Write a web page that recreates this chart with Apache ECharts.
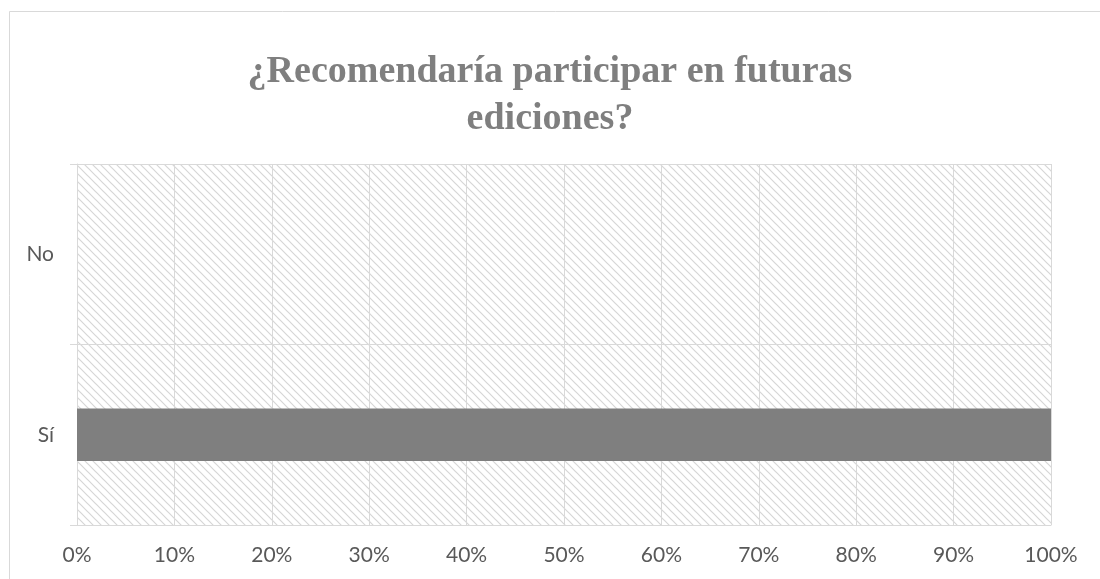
<!DOCTYPE html>
<html><head><meta charset="utf-8">
<script src="https://cdn.jsdelivr.net/npm/echarts@6/dist/echarts.min.js"></script>
<style>html,body{margin:0;padding:0;background:#fff}#c{width:1100px;height:579px}</style>
</head><body><div id="c"></div>
<script>
var titleText = '¿Recomendaría participar en futuras\nediciones?';
var categories = ['Sí', 'No'];
var values = [100, 0];
var xTicks = [0, 10, 20, 30, 40, 50, 60, 70, 80, 90, 100];

function hatch() {
  var s = 8;
  var cv = document.createElement('canvas');
  cv.width = s; cv.height = s;
  var ctx = cv.getContext('2d');
  ctx.fillStyle = '#ffffff';
  ctx.fillRect(0, 0, s, s);
  ctx.strokeStyle = '#d6d6d6';
  ctx.lineWidth = 1.2;
  ctx.beginPath();
  ctx.moveTo(-1, -1); ctx.lineTo(s + 1, s + 1);
  ctx.moveTo(-1, s - 1); ctx.lineTo(1, s + 1);
  ctx.moveTo(s - 1, -1); ctx.lineTo(s + 1, 1);
  ctx.stroke();
  return { image: cv, repeat: 'repeat' };
}

var chart = echarts.init(document.getElementById('c'), null, { renderer: 'canvas' });
chart.setOption({
  animation: false,
  backgroundColor: '#ffffff',
  graphic: [{
    type: 'rect', z: -10, silent: true,
    shape: { x: 9.5, y: 11.5, width: 1200, height: 700 },
    style: { fill: 'none', stroke: '#d9d9d9', lineWidth: 1 }
  }],
  title: {
    text: titleText,
    left: 'center',
    top: 44,
    textStyle: {
      fontFamily: 'Liberation Serif',
      fontWeight: 'bold',
      fontSize: 38,
      lineHeight: 47,
      color: '#7f7f7f'
    }
  },
  grid: {
    left: 77, right: 49, top: 164, bottom: 54,
    show: true, borderWidth: 0,
    backgroundColor: hatch()
  },
  xAxis: {
    type: 'value',
    min: xTicks[0], max: xTicks[xTicks.length - 1], interval: 10,
    axisLine: { show: true, lineStyle: { color: '#d9d9d9', width: 1 } },
    axisTick: { show: false },
    splitLine: { show: true, lineStyle: { color: '#d9d9d9', width: 1 } },
    axisLabel: {
      formatter: '{value}%', color: '#595959',
      fontFamily: 'Lato', fontSize: 21, margin: 20
    }
  },
  yAxis: {
    type: 'category',
    data: categories,
    axisLine: { show: true, lineStyle: { color: '#d9d9d9', width: 1 } },
    axisTick: { show: true, length: 7, lineStyle: { color: '#d9d9d9' } },
    splitLine: { show: true, lineStyle: { color: '#d9d9d9', width: 1 } },
    axisLabel: {
      color: '#595959', fontFamily: 'Lato', fontSize: 21, margin: 23
    }
  },
  series: [{
    type: 'bar',
    data: values,
    barWidth: '29%',
    itemStyle: { color: '#7f7f7f' }
  }]
});
</script>
</body></html>
